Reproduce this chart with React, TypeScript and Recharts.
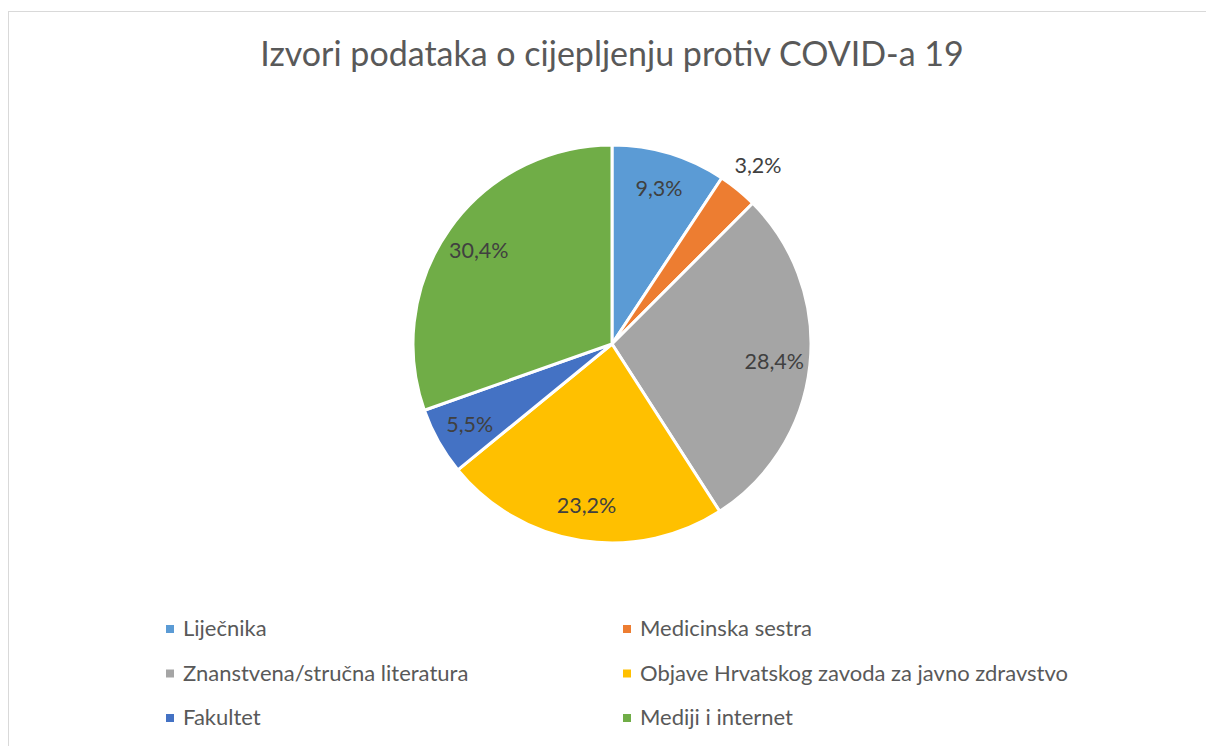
import { PieChart, Pie, Cell, Legend } from 'recharts';

const categories = [
  'Liječnika',
  'Medicinska sestra',
  'Znanstvena/stručna literatura',
  'Objave Hrvatskog zavoda za javno zdravstvo',
  'Fakultet',
  'Mediji i internet',
];
const shares = [9.3, 3.2, 28.4, 23.2, 5.5, 30.4];
const colors = ['#5B9BD5', '#ED7D31', '#A5A5A5', '#FFC000', '#4472C4', '#70AD47'];
const title = 'Izvori podataka o cijepljenju protiv COVID-a 19';

const data = categories.map((name, i) => ({ name, value: shares[i] }));

const FONT = 'Lato, "Open Sans", sans-serif';
const RAD = Math.PI / 180;

const renderLabel = (p: any) => {
  const { cx, cy, midAngle, outerRadius, value } = p;
  // small slices get their label pushed outside, like Excel's best fit
  const r = value < 4 ? outerRadius * 1.16 : outerRadius * 0.82;
  const x = cx + r * Math.cos(-midAngle * RAD);
  const y = cy + r * Math.sin(-midAngle * RAD);
  return (
    <text x={x} y={y} fill="#404040" fontSize={21.5} fontFamily={FONT} textAnchor="middle" dominantBaseline="central">
      {value.toFixed(1).replace('.', ',') + '%'}
    </text>
  );
};

const LegendBox = () => (
  <svg width={1206} height={146}>
    {categories.map((c, i) => {
      const col = i % 2;
      const row = Math.floor(i / 2);
      const baseY = 36 + row * 44.5;
      const sx = col === 0 ? 166 : 623;
      return (
        <g key={c}>
          <rect x={sx} y={baseY - 11} width={8} height={8} fill={colors[i]} />
          <text x={sx + 17} y={baseY} fill="#595959" fontSize={22} fontFamily={FONT}>
            {c}
          </text>
        </g>
      );
    })}
  </svg>
);

export default function App() {
  return (
    <div style={{ position: 'fixed', left: 0, top: 0, width: 1206, height: 746, background: '#fff', overflow: 'hidden' }}>
      <PieChart width={1206} height={746} margin={{ top: 0, right: 0, bottom: 0, left: 0 }}>
        <rect x={8.5} y={11.5} width={1300} height={800} fill="none" stroke="#D9D9D9" strokeWidth={1} />
        <text x={612} y={66} textAnchor="middle" fill="#595959" fontSize={34} fontFamily={FONT}>
          {title}
        </text>
        <Pie
          data={data}
          dataKey="value"
          nameKey="name"
          cx={612}
          cy={344}
          outerRadius={199}
          startAngle={90}
          endAngle={-270}
          stroke="#fff"
          strokeWidth={3}
          label={renderLabel}
          labelLine={false}
          isAnimationActive={false}
        >
          {data.map((d, i) => (
            <Cell key={d.name} fill={colors[i]} />
          ))}
        </Pie>
        <Legend
          content={() => <LegendBox />}
          wrapperStyle={{ position: 'absolute', left: 0, top: 600, width: 1206, height: 146 }}
        />
      </PieChart>
    </div>
  );
}
